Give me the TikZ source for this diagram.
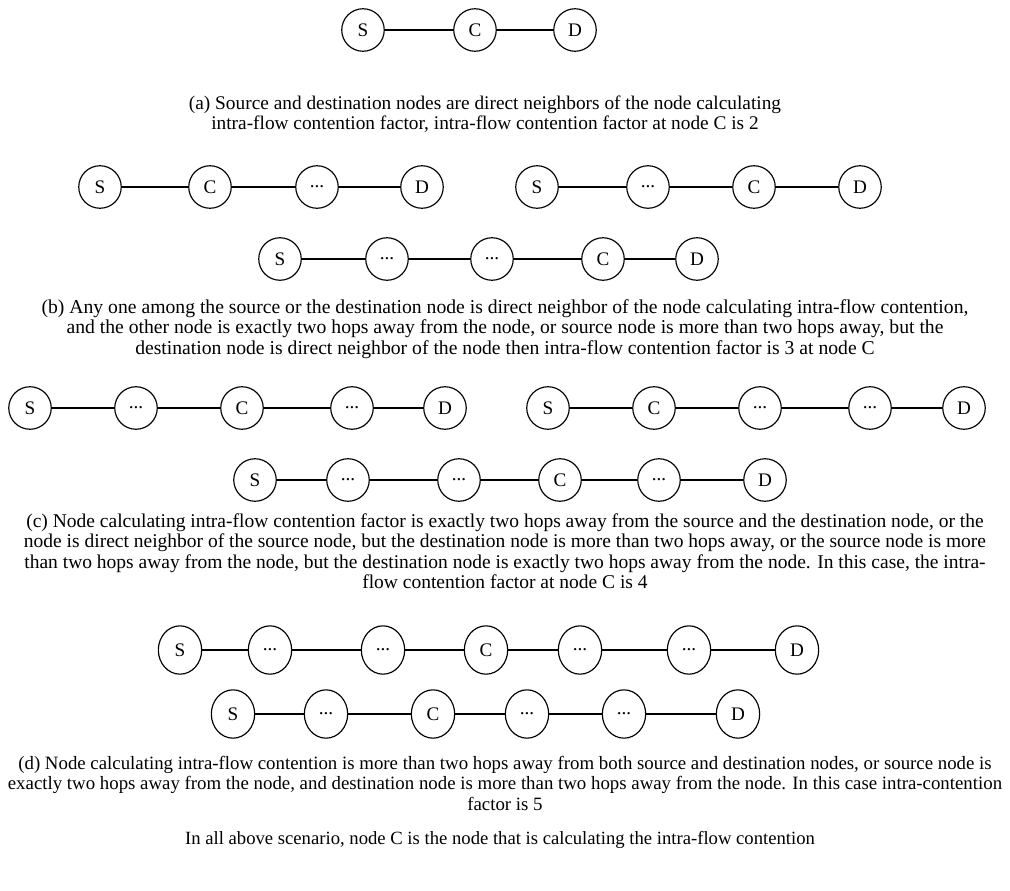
\documentclass[tikz,border=0pt]{standalone}
\usepackage{fontspec}
\setmainfont{Liberation Serif}
\usetikzlibrary{shapes.geometric}
\newcommand{\hopdots}{...}
\tikzset{
  hop/.style={circle,draw,line width=0.7pt,minimum size=25.5pt,inner sep=0pt,
    font=\fontsize{11.5pt}{12pt}\selectfont},
  hopd/.style={ellipse,draw,line width=0.7pt,minimum width=26pt,minimum height=29pt,
    inner sep=0pt,font=\fontsize{11.5pt}{12pt}\selectfont},
  link/.style={line width=0.8pt},
  note/.style={align=center,inner sep=0pt,font=\fontsize{#1}{12.3pt}\selectfont},
  note/.default=11.5pt,
}

\begin{document}
\begin{tikzpicture}[x=0.6pt,y=-0.6pt]
  \useasboundingbox (0,0) rectangle (1010,890);
  % (a)
  \foreach \t/\x [count=\i] in {S/363,C/475,D/575}
    \node[hop] (a\i) at (\x,30) {\t};
  \draw[link] (a1) -- (a2) -- (a3);
  \node[note=11.6pt] (capa) at (485,114) {(a) Source and destination nodes are direct neighbors of the node calculating\\
    intra-flow contention factor, intra-flow contention factor at node C is 2};
  % (b)
  \foreach \t/\x [count=\i] in {S/100,C/210,\hopdots/317,D/422}
    \node[hop] (bl\i) at (\x,187) {\t};
  \foreach \t/\x [count=\i] in {S/537,\hopdots/648,C/754,D/860}
    \node[hop] (br\i) at (\x,187) {\t};
  \foreach \t/\x [count=\i] in {S/280,\hopdots/387,\hopdots/492,C/603,D/697}
    \node[hop] (bm\i) at (\x,259) {\t};
  \draw[link] (bl1) -- (bl2) -- (bl3) -- (bl4);
  \draw[link] (br1) -- (br2) -- (br3) -- (br4);
  \draw[link] (bm1) -- (bm2) -- (bm3) -- (bm4) -- (bm5);
  \node[note=11.8pt] (capb) at (505,329) {(b) Any one among the source or the destination node is direct neighbor of the node calculating intra-flow contention,\\
    and the other node is exactly two hops away from the node, or source node is more than two hops away, but the\\
    destination node is direct neighbor of the node then intra-flow contention factor is 3 at node C};
  % (c)
  \foreach \t/\x [count=\i] in {S/30,\hopdots/136,C/242,\hopdots/352,D/445}
    \node[hop] (cl\i) at (\x,408) {\t};
  \foreach \t/\x [count=\i] in {S/548,C/654,\hopdots/760,\hopdots/870,D/964}
    \node[hop] (cr\i) at (\x,408) {\t};
  \foreach \t/\x [count=\i] in {S/255,\hopdots/348,\hopdots/459,C/560,\hopdots/659,D/765}
    \node[hop] (cm\i) at (\x,480) {\t};
  \draw[link] (cl1) -- (cl2) -- (cl3) -- (cl4) -- (cl5);
  \draw[link] (cr1) -- (cr2) -- (cr3) -- (cr4) -- (cr5);
  \draw[link] (cm1) -- (cm2) -- (cm3) -- (cm4) -- (cm5) -- (cm6);
  \node[note=11.7pt] (capc) at (505,551) {(c) Node calculating intra-flow contention factor is exactly two hops away from the source and the destination node, or the\\
    node is direct neighbor of the source node, but the destination node is more than two hops away, or the source node is more\\
    than two hops away from the node, but the destination node is exactly two hops away from the node. In this case, the intra-\\
    flow contention factor at node C is 4};
  % (d)
  \foreach \t/\x [count=\i] in {S/180,\hopdots/270,\hopdots/383,C/486,\hopdots/580,\hopdots/689,D/797}
    \node[hopd] (dt\i) at (\x,650) {\t};
  \foreach \t/\x [count=\i] in {S/233,\hopdots/326,C/433,\hopdots/527,\hopdots/624,D/738}
    \node[hopd] (db\i) at (\x,714) {\t};
  \draw[link] (dt1) -- (dt2) -- (dt3) -- (dt4) -- (dt5) -- (dt6) -- (dt7);
  \draw[link] (db1) -- (db2) -- (db3) -- (db4) -- (db5) -- (db6);
  \node[note=11.3pt] (capd) at (505,783) {(d) Node calculating intra-flow contention is more than two hops away from both source and destination nodes, or source node is\\
    exactly two hops away from the node, and destination node is more than two hops away from the node. In this case intra-contention\\
    factor is 5};
  \node[note=11.2pt] (final) at (500,840) {In all above scenario, node C is the node that is calculating the intra-flow contention};
\end{tikzpicture}
\end{document}
